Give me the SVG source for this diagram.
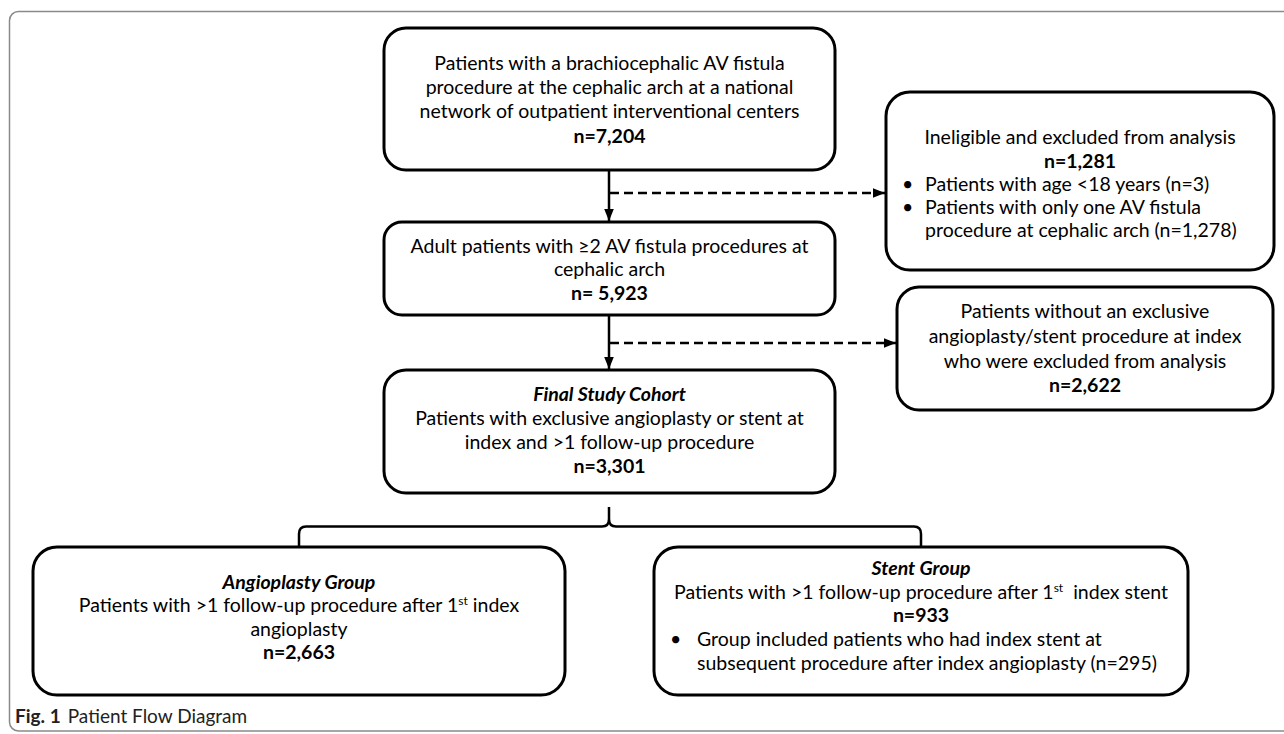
<svg xmlns="http://www.w3.org/2000/svg" width="1284" height="734" viewBox="0 0 1284 734">
<style>
.box{fill:#fff;stroke:#000;stroke-width:3}
.t{font-family:Lato,"Open Sans","Liberation Sans",sans-serif;font-size:19.5px;fill:#000;text-anchor:middle}
.l{text-anchor:start}
.b{font-weight:bold}
.bi{font-weight:bold;font-style:italic}
.con{fill:none;stroke:#000;stroke-width:2.5}
.dash{stroke-dasharray:9,5}
.cap{font-family:Lato,"Open Sans","Liberation Sans",sans-serif;font-size:19px;fill:#222}
</style>
<defs>
<marker id="ah" markerUnits="userSpaceOnUse" markerWidth="12" markerHeight="12" viewBox="0 0 10 10" refX="10" refY="5" orient="auto">
<path d="M0,1 L10,5 L0,9 z" fill="#000"/>
</marker>
</defs>
<rect x="9.5" y="11.5" width="1300" height="719.5" rx="9" fill="#fff" stroke="#8a8a8a" stroke-width="1.5"/>
<g id="connectors">
<line class="con" x1="609" y1="170" x2="609" y2="221" marker-end="url(#ah)"/>
<line class="con dash" x1="610" y1="193" x2="885" y2="193" marker-end="url(#ah)"/>
<line class="con" x1="609" y1="315" x2="609" y2="369" marker-end="url(#ah)"/>
<line class="con dash" x1="610" y1="343" x2="896" y2="343" marker-end="url(#ah)"/>
<path class="con" d="M299,546 V534 Q299,526.5 306,526.5 H602 Q609,526.5 609,519 V507 M609,519 Q609,526.5 616,526.5 H914 Q921,526.5 921,534 V546"/>
</g>
<g id="n1">
<rect class="box" x="384" y="28" width="451" height="142" rx="22"/>
<text class="t" x="609.5" y="70">Patients with a brachiocephalic AV fistula</text>
<text class="t" x="609.5" y="94">procedure at the cephalic arch at a national</text>
<text class="t" x="609.5" y="118">network of outpatient interventional centers</text>
<text class="t b" x="609.5" y="143">n=7,204</text>
</g>
<g id="n2">
<rect class="box" x="886" y="92" width="388" height="178" rx="24"/>
<text class="t" x="1080" y="144">Ineligible and excluded from analysis</text>
<text class="t b" x="1080" y="167.5">n=1,281</text>
<text class="t l" x="902" y="191">•</text>
<text class="t l" x="925" y="191">Patients with age &lt;18 years (n=3)</text>
<text class="t l" x="902" y="214">•</text>
<text class="t l" x="925" y="214">Patients with only one AV fistula</text>
<text class="t l" x="925" y="237">procedure at cephalic arch (n=1,278)</text>
</g>
<g id="n3">
<rect class="box" x="384" y="222" width="451" height="93" rx="18"/>
<text class="t" x="609.5" y="253">Adult patients with ≥2 AV fistula procedures at</text>
<text class="t" x="609.5" y="276">cephalic arch</text>
<text class="t b" x="609.5" y="300">n= 5,923</text>
</g>
<g id="n4">
<rect class="box" x="897" y="287" width="376" height="123" rx="22"/>
<text class="t" x="1085" y="318">Patients without an exclusive</text>
<text class="t" x="1085" y="343">angioplasty/stent procedure at index</text>
<text class="t" x="1085" y="368">who were excluded from analysis</text>
<text class="t b" x="1085" y="392">n=2,622</text>
</g>
<g id="n5">
<rect class="box" x="384" y="370" width="451" height="123" rx="22"/>
<text class="t bi" x="609.5" y="401">Final Study Cohort</text>
<text class="t" x="609.5" y="425">Patients with exclusive angioplasty or stent at</text>
<text class="t" x="609.5" y="449">index and &gt;1 follow-up procedure</text>
<text class="t b" x="609.5" y="473">n=3,301</text>
</g>
<g id="n6">
<rect class="box" x="33" y="547" width="532" height="148" rx="24"/>
<text class="t bi" x="299" y="589">Angioplasty Group</text>
<text class="t" x="299" y="612">Patients with &gt;1 follow-up procedure after 1<tspan font-size="12" dy="-7">st</tspan><tspan dy="7"> index</tspan></text>
<text class="t" x="299" y="636">angioplasty</text>
<text class="t b" x="299" y="659">n=2,663</text>
</g>
<g id="n7">
<rect class="box" x="654" y="547" width="534" height="148" rx="24"/>
<text class="t bi" x="921" y="575">Stent Group</text>
<text class="t" x="921" y="599">Patients with &gt;1 follow-up procedure after 1<tspan font-size="12" dy="-7">st</tspan><tspan dy="7" dx="5"> index stent</tspan></text>
<text class="t b" x="921" y="622">n=933</text>
<text class="t l" x="670" y="646">•</text>
<text class="t l" x="697" y="646">Group included patients who had index stent at</text>
<text class="t l" x="697" y="670">subsequent procedure after index angioplasty (n=295)</text>
</g>
<text class="cap" x="15" y="723"><tspan font-weight="bold">Fig. 1</tspan><tspan dx="7">Patient Flow Diagram</tspan></text>
</svg>
